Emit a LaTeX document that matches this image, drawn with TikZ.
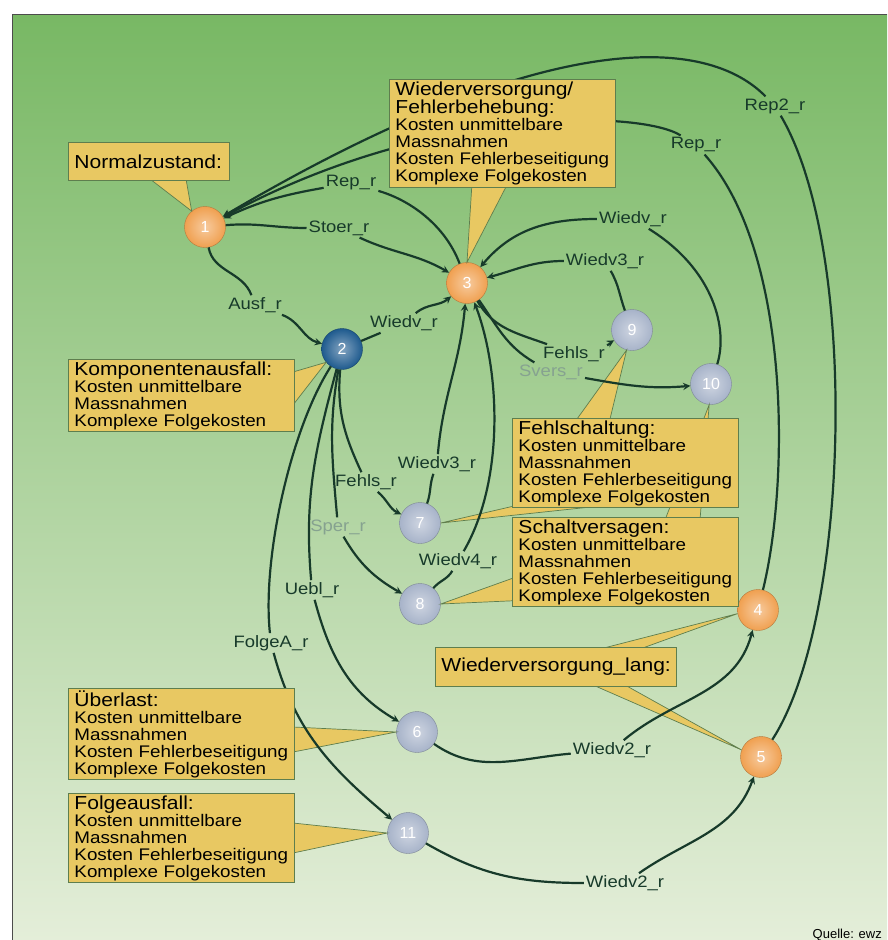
\documentclass[tikz,border=0pt]{standalone}
\usepackage{fontspec}
\setmainfont{Liberation Sans}
\newfontfamily\boxfont{Liberation Sans}[FakeStretch=1.12]
\definecolor{bgtop}{HTML}{78B864}
\definecolor{bgmid}{HTML}{A8D08E}
\definecolor{bgbot}{HTML}{E4EED9}
\definecolor{boxfill}{HTML}{E8C862}
\definecolor{boxline}{HTML}{5E7E4E}
\definecolor{edgecol}{HTML}{173A2A}
\definecolor{lblgrey}{HTML}{86A290}
\definecolor{stOrange}{HTML}{F0A050}
\definecolor{stGrey}{HTML}{A7B3C9}
\definecolor{stBlue}{HTML}{1E5A8E}
\newcommand{\ttl}[1]{{\fontsize{18.8}{17}\selectfont #1}}

\begin{document}
\begin{tikzpicture}[x=1pt,y=1pt,
    state/.style={circle,minimum size=41pt,inner sep=0pt,draw=#1!75!black,
        inner color=#1!55!white,outer color=#1,text=white,
        font=\fontsize{16}{16}\selectfont},
    lbl/.style={text=edgecol,inner sep=2pt,font=\boxfont\fontsize{16.5}{17}\selectfont},
    lblg/.style={lbl,text=lblgrey},
    edge/.style={draw=edgecol,line width=2.2pt},
    arr/.style={edge,-stealth},
    box/.style={draw=boxline,fill=boxfill,line width=0.9pt,anchor=north west,
        align=left,inner xsep=6pt,inner ysep=2pt,text width=214pt,
        font=\boxfont\fontsize{16.8}{17}\selectfont},
    wedge/.style={draw=boxline,fill=boxfill,line width=0.7pt}]
    \useasboundingbox (0,0) rectangle (887,-940);
    \fill[white] (0,0) rectangle (887,-940);
    \shade[top color=bgtop,middle color=bgmid,bottom color=bgbot] (12,-14) rectangle (887,-940);
    \draw[gray!60!black,line width=1pt] (12,-940) -- (12,-14) -- (887,-14);

    % states
    \node[state=stOrange] (n1) at (205,-227) {1};
    \node[state=stOrange] (n3) at (467,-283) {3};
    \node[state=stBlue] (n2) at (342,-349) {2};
    \node[state=stGrey] (n9) at (632,-330) {9};
    \node[state=stGrey] (n10) at (711,-384) {10};
    \node[state=stGrey] (n7) at (420,-523) {7};
    \node[state=stGrey] (n8) at (420,-604) {8};
    \node[state=stOrange] (n4) at (758,-610) {4};
    \node[state=stGrey] (n6) at (417,-732) {6};
    \node[state=stOrange] (n5) at (761,-757) {5};
    \node[state=stGrey] (n11) at (408,-833) {11};

    % rates
    \node[lbl] (lRepZ) at (775,-106) {Rep2\_r};
    \node[lbl] (lRepB) at (696,-145) {Rep\_r};
    \node[lbl] (lRepA) at (351,-183) {Rep\_r};
    \node[lbl] (lStoer) at (339,-228) {Stoer\_r};
    \node[lbl] (lWiedvB) at (633,-219) {Wiedv\_r};
    \node[lbl] (lWiedvC) at (605,-261) {Wiedv3\_r};
    \node[lbl] (lAusf) at (255,-305) {Ausf\_r};
    \node[lbl] (lWiedvA) at (404,-323) {Wiedv\_r};
    \node[lbl] (lFehlsA) at (574,-354) {Fehls\_r};
    \node[lblg] (lSvers) at (551,-372) {Svers\_r};
    \node[lbl] (lWiedvD) at (437,-464) {Wiedv3\_r};
    \node[lbl] (lFehlsB) at (366,-482) {Fehls\_r};
    \node[lblg] (lSper) at (338,-527) {Sper\_r};
    \node[lbl] (lWiedvE) at (458,-561) {Wiedv4\_r};
    \node[lbl] (lUebl) at (312,-590) {Uebl\_r};
    \node[lbl] (lFolgeA) at (271,-643) {FolgeA\_r};
    \node[lbl] (lWiedvF) at (612,-750) {Wiedv2\_r};
    \node[lbl] (lWiedvG) at (625,-883) {Wiedv2\_r};

    % callout pointers
    \filldraw[wedge] (150,-179) -- (n1.130) -- (186,-179) -- cycle;
    \filldraw[wedge] (472,-183) -- (n3.north) -- (508,-183) -- cycle;
    \filldraw[wedge] (293,-372) -- (n2.220) -- (293,-405) -- cycle;
    \filldraw[wedge] (577,-419) -- (n9.255) -- (610,-419) -- cycle;
    \filldraw[wedge] (665,-520) -- (n10.265) -- (700,-520) -- cycle;
    \filldraw[wedge] (540,-500) -- (n7.east) -- (600,-506) -- cycle;
    \filldraw[wedge] (530,-572) -- (n8.east) -- (530,-600) -- cycle;
    \filldraw[wedge] (600,-649) -- (n4.190) -- (640,-649) -- cycle;
    \filldraw[wedge] (593,-685) -- (n5.160) -- (625,-685) -- cycle;
    \filldraw[wedge] (293,-727) -- (n6.west) -- (293,-752) -- cycle;
    \filldraw[wedge] (293,-823) -- (n11.west) -- (293,-853) -- cycle;

    % transitions
    \draw[edge] (n5) .. controls (850,-620) and (860,-250) .. (lRepZ);
    \draw[arr] (lRepZ) .. controls (700,-30) and (530,-35) .. (n1);
    \draw[edge] (n4) .. controls (790,-480) and (790,-250) .. (lRepB);
    \draw[arr] (lRepB) .. controls (640,-110) and (430,-105) .. (n1);
    \draw[edge] (n3) .. controls (445,-225) and (410,-200) .. (lRepA);
    \draw[arr] (lRepA) to[out=190,in=25] (n1);
    \draw[edge] (n1) to[out=5,in=180] (lStoer);
    \draw[arr] (lStoer) to[out=-25,in=150] (n3);
    \draw[edge] (n1) to[out=-80,in=110] (lAusf);
    \draw[arr] (lAusf) to[out=-20,in=165] (n2);
    \draw[edge] (n2) -- (lWiedvA);
    \draw[arr] (lWiedvA) to[out=40,in=-140] (n3);
    \draw[edge] (n10) .. controls (728,-330) and (715,-270) .. (lWiedvB);
    \draw[arr] (lWiedvB) to[out=180,in=50] (n3);
    \draw[edge] (n9) to[out=110,in=-60] (lWiedvC);
    \draw[arr] (lWiedvC) to[out=180,in=15] (n3);
    \draw[edge] (n3) to[out=-60,in=160] (lFehlsA);
    \draw[arr] (lFehlsA) to[out=15,in=-150] (n9);
    \draw[edge] (n3) to[out=-55,in=150] (lSvers);
    \draw[arr] (lSvers) to[out=-10,in=185] (n10);
    \draw[edge] (n2) to[out=-95,in=115] (lFehlsB);
    \draw[arr] (lFehlsB) to[out=-40,in=155] (n7);
    \draw[edge] (n2) to[out=-100,in=95] (lSper);
    \draw[arr] (lSper) to[out=-60,in=150] (n8);
    \draw[edge] (n7) to[out=70,in=-110] (lWiedvD);
    \draw[arr] (lWiedvD) to[out=85,in=-95] (n3);
    \draw[edge] (n8) to[out=50,in=-120] (lWiedvE);
    \draw[arr] (lWiedvE) .. controls (505,-480) and (500,-370) .. (n3);
    \draw[edge] (n2) to[out=-105,in=95] (lUebl);
    \draw[arr] (lUebl) to[out=-75,in=150] (n6);
    \draw[edge] (n2) .. controls (290,-430) and (262,-560) .. (lFolgeA);
    \draw[arr] (lFolgeA) to[out=-75,in=140] (n11);
    \draw[edge] (n6) to[out=-35,in=185] (lWiedvF);
    \draw[arr] (lWiedvF) to[out=40,in=-105] (n4);
    \draw[edge] (n11) to[out=-30,in=180] (lWiedvG);
    \draw[arr] (lWiedvG) to[out=35,in=-110] (n5);

    % callouts
    \node[box,text width=149pt,minimum height=38pt] (bNorm) at (68,-142) {\ttl{Normalzustand:}};
    \node[box] (bWiedv) at (389,-79) {\ttl{Wiederversorgung/}\\\ttl{Fehlerbehebung:}\\Kosten unmittelbare\\Massnahmen\\Kosten Fehlerbeseitigung\\Komplexe Folgekosten};
    \node[box] (bKomp) at (68,-359) {\ttl{Komponentenausfall:}\\Kosten unmittelbare\\Massnahmen\\Komplexe Folgekosten};
    \node[box] (bFehl) at (512,-418) {\ttl{Fehlschaltung:}\\Kosten unmittelbare\\Massnahmen\\Kosten Fehlerbeseitigung\\Komplexe Folgekosten};
    \node[box] (bSchalt) at (512,-517) {\ttl{Schaltversagen:}\\Kosten unmittelbare\\Massnahmen\\Kosten Fehlerbeseitigung\\Komplexe Folgekosten};
    \node[box,text width=229pt,minimum height=39pt] (bLang) at (435,-647) {\ttl{Wiederversorgung\_lang:}};
    \node[box] (bUeber) at (68,-688) {\ttl{Überlast:}\\Kosten unmittelbare\\Massnahmen\\Kosten Fehlerbeseitigung\\Komplexe Folgekosten};
    \node[box] (bFolge) at (68,-793) {\ttl{Folgeausfall:}\\Kosten unmittelbare\\Massnahmen\\Kosten Fehlerbeseitigung\\Komplexe Folgekosten};

    \node[anchor=base east,inner sep=0pt,font=\fontsize{13}{13}\selectfont] (src) at (882,-938) {Quelle: ewz};
\end{tikzpicture}
\end{document}
